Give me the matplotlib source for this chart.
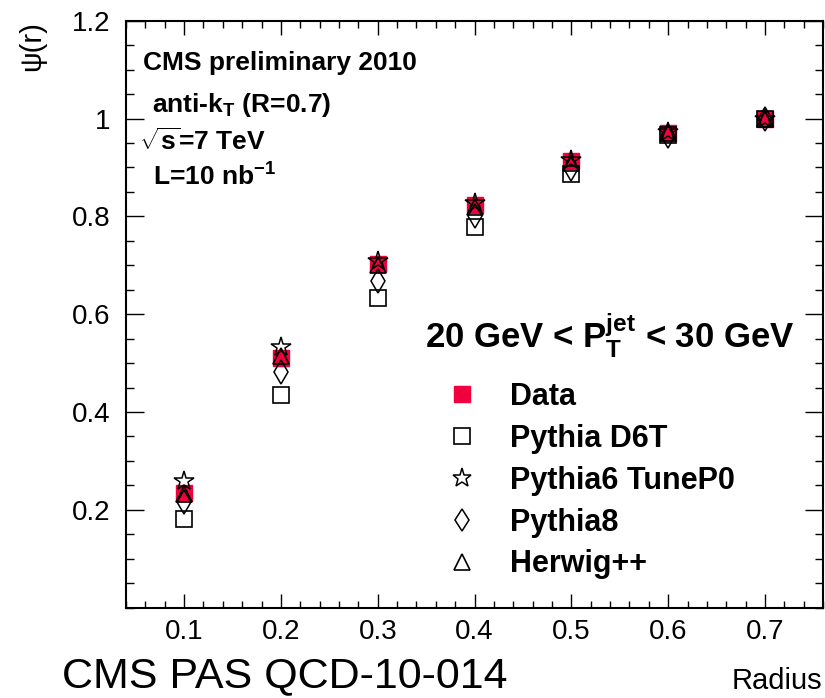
import numpy as np
import matplotlib
matplotlib.use("Agg")
import matplotlib.pyplot as plt
from matplotlib.ticker import MultipleLocator

plt.rcParams['font.family'] = ['Liberation Sans', 'DejaVu Sans']
plt.rcParams['mathtext.fontset'] = 'custom'
plt.rcParams['mathtext.rm'] = 'Liberation Sans'
plt.rcParams['mathtext.bf'] = 'Liberation Sans:bold'

# ----------------------------------------------------
# Data
# ----------------------------------------------------
radius = [0.1, 0.2, 0.3, 0.4, 0.5, 0.6, 0.7]
psi_data = [0.235, 0.510, 0.702, 0.823, 0.913, 0.970, 1.0]
psi_d6t = [0.181, 0.434, 0.633, 0.779, 0.887, 0.967, 1.0]
psi_p0 = [0.258, 0.533, 0.708, 0.828, 0.915, 0.972, 1.0]
psi_py8 = [0.217, 0.481, 0.668, 0.800, 0.897, 0.965, 1.0]
psi_herwig = [0.232, 0.515, 0.700, 0.820, 0.910, 0.970, 1.0]

labels = ["Data", "Pythia D6T", "Pythia6 TuneP0", "Pythia8", "Herwig++"]
xtick_vals = [0.1, 0.2, 0.3, 0.4, 0.5, 0.6, 0.7]
xtick_text = ["0.1", "0.2", "0.3", "0.4", "0.5", "0.6", "0.7"]
ytick_vals = [0.2, 0.4, 0.6, 0.8, 1.0, 1.2]
ytick_text = ["0.2", "0.4", "0.6", "0.8", "1", "1.2"]

fig = plt.figure(figsize=(8.25, 6.98), dpi=100)
ax = fig.add_axes([0.1527, 0.1294, 0.845, 0.8409])

h_data, = ax.plot(radius, psi_data, ls='none', marker='s', ms=12,
                  color='#f0003c', mec='#f0003c')
h_d6t, = ax.plot(radius, psi_d6t, ls='none', marker='s', ms=11.5,
                 mfc='none', mec='black', mew=1.2)
h_p0, = ax.plot(radius, psi_p0, ls='none', marker='*', ms=15,
                mfc='none', mec='black', mew=1.1)
h_py8, = ax.plot(radius, psi_py8, ls='none', marker='d', ms=12,
                 mfc='none', mec='black', mew=1.1)
h_hw, = ax.plot(radius, psi_herwig, ls='none', marker='^', ms=12,
                mfc='none', mec='black', mew=1.2)

ax.set_xlim(0.04, 0.76)
ax.set_ylim(0, 1.2)
ax.xaxis.set_minor_locator(MultipleLocator(0.02))
ax.yaxis.set_minor_locator(MultipleLocator(0.05))
ax.set_xticks(xtick_vals)
ax.set_xticklabels(xtick_text)
ax.set_yticks(ytick_vals)
ax.set_yticklabels(ytick_text)
ax.tick_params(which='both', direction='in', top=True, right=True, width=1.0,
               labelsize=20)
ax.tick_params(axis='x', which='major', length=10, pad=8.5)
ax.tick_params(axis='x', which='minor', length=5)
ax.tick_params(axis='y', which='major', length=13, pad=11)
ax.tick_params(axis='y', which='minor', length=6)
for s in ax.spines.values():
    s.set_linewidth(1.5)

# ----------------------------------------------------
# Annotations
# ----------------------------------------------------
fig.text(0.039, 0.934, "ψ(r)", fontsize=21, rotation=90, ha='center', va='center')
fig.text(0.997, 0.013, "Radius", fontsize=21, ha='right', va='baseline')
fig.text(0.075, 0.016, "CMS PAS QCD-10-014", fontsize=31, ha='left', va='baseline')

fig.text(0.173, 0.899, "CMS preliminary 2010", fontsize=19, weight='bold', va='baseline')
fig.text(0.184, 0.840, r"anti-k$_\mathbf{T}$ (R=0.7)", fontsize=19, weight='bold', va='baseline')
fig.text(0.168, 0.785, r"$\sqrt{\mathbf{s}}$=7 TeV", fontsize=19, weight='bold', va='baseline')
fig.text(0.185, 0.736, r"L=10 nb$^\mathbf{-1}$", fontsize=19, weight='bold', va='baseline')

fig.text(0.515, 0.501, r"20 GeV < P$_\mathbf{T}^\mathbf{jet}$ < 30 GeV", fontsize=25,
         weight='bold', va='baseline', ha='left')

leg = ax.legend([h_data, h_d6t, h_p0, h_py8, h_hw], labels,
                loc='upper left', bbox_to_anchor=(0.5415, 0.453),
                bbox_transform=fig.transFigure, frameon=False,
                prop={'size': 22, 'weight': 'bold'}, labelspacing=0.39,
                borderpad=0, borderaxespad=0,
                handlelength=1.0, handletextpad=1.07, markerscale=0.95)

fig.savefig("out.png", dpi=100)
